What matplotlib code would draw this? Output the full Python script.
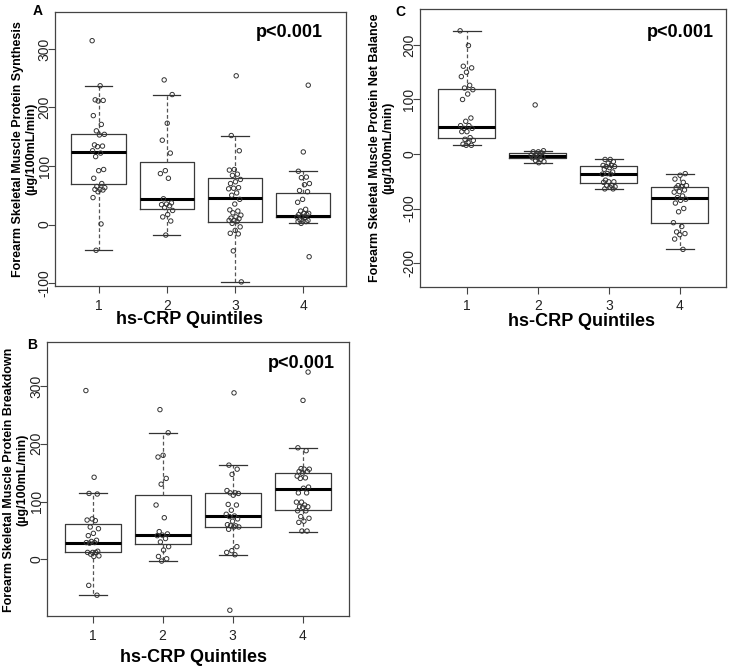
import numpy as np
import matplotlib
matplotlib.use("Agg")
import matplotlib.pyplot as plt

plt.rcParams['font.family'] = ['Liberation Sans', 'DejaVu Sans']

# =========================
# DATA
# =========================
quintiles = ['1', '2', '3', '4']

# A - protein synthesis
synth_q1 = [314, 237, 213, 212, 211, 186, 171, 160, 154, 153, 136, 134, 133, 126, 122,
            116, 94, 92, 79, 70, 65, 63, 60, 60, 59, 56, 46, 1, -44]
synth_q2 = [247, 222, 173, 144, 122, 92, 87, 79, 44, 37, 35, 34, 32, 29, 24, 17, 13, 6, -18]
synth_q3 = [254, 152, 126, 94, 93, 86, 84, 77, 73, 70, 63, 62, 61, 54, 50, 43, 35, 25, 23,
            20, 16, 13, 11, 10, 7, 7, 5, 2, -4, -10, -15, -16, -45, -98]
synth_q4 = [238, 124, 91, 81, 80, 70, 68, 58, 56, 43, 38, 26, 23, 19, 19, 17, 17, 14, 13,
            12, 8, 7, 6, 5, 5, 2, -55]
synth_med = [124, 43, 46, 14]
synth_lo = [69, 26, 5, 13]
synth_hi = [155, 107, 80, 54]
synth_wlo = [-44, -18, -98, 2]
synth_whi = [237, 222, 152, 91]

# B - protein breakdown
brk_q1 = [292, 142, 114, 113, 70, 68, 67, 56, 53, 45, 41, 33, 31, 29, 29, 28, 14, 12, 12,
          12, 9, 6, 5, -45, -62]
brk_q2 = [259, 219, 180, 177, 140, 130, 94, 72, 48, 44, 42, 41, 36, 30, 22, 16, 5, 1, -3]
brk_q3 = [288, 163, 156, 147, 119, 115, 115, 114, 111, 95, 94, 85, 78, 75, 74, 70, 66, 60,
          58, 58, 56, 56, 52, 22, 15, 12, 8, -88]
brk_q4 = [324, 275, 193, 188, 157, 156, 156, 152, 152, 149, 144, 141, 140, 125, 123, 115,
          115, 99, 99, 94, 91, 91, 90, 84, 84, 74, 71, 66, 64, 49, 49]
brk_med = [28, 42, 75, 122]
brk_lo = [12, 27, 56, 85]
brk_hi = [61, 111, 114, 150]
brk_wlo = [-62, -3, 8, 48]
brk_whi = [115, 219, 163, 193]

# C - net balance
net_q1 = [226, 199, 161, 158, 150, 142, 126, 121, 118, 110, 100, 66, 60, 52, 52, 47, 47,
          41, 41, 30, 27, 25, 21, 18, 16, 16]
net_q2 = [90, 6, 4, 4, 2, 0, -2, -3, -5, -5, -7, -7, -10, -12, -14, -16]
net_q3 = [-10, -10, -14, -17, -21, -21, -23, -23, -25, -28, -33, -36, -37, -37, -48, -51,
          -51, -52, -58, -58, -60, -61, -64, -64]
net_q4 = [-36, -39, -46, -52, -58, -58, -60, -62, -66, -69, -70, -77, -80, -83, -85, -90,
          -100, -106, -126, -133, -143, -146, -148, -156, -175]
net_med = [50, -4, -36, -80]
net_lo = [29, -8, -54, -126]
net_hi = [119, 2.5, -22, -60]
net_wlo = [16, -16, -64, -175]
net_whi = [226, 5.5, -10, -36]

W, H = 734, 668
fig = plt.figure(figsize=(W / 100, H / 100), dpi=100)


def px_axes(left, top, right, bottom):
    return fig.add_axes([left / W, 1 - bottom / H, (right - left) / W, (bottom - top) / H])


def draw_panel(ax, groups, med, lo, hi, wlo, whi, yticks, ylim, xlim, width_px):
    stats = []
    for i in range(len(groups)):
        stats.append(dict(med=med[i], q1=lo[i], q3=hi[i], whislo=wlo[i], whishi=whi[i], fliers=[]))
    ax.bxp(stats, positions=range(1, len(groups) + 1), widths=0.8, capwidths=0.4,
           showfliers=False,
           boxprops=dict(color='#3a3a3a', lw=0.9),
           medianprops=dict(color='black', lw=2.2),
           whiskerprops=dict(color='#555555', lw=0.9, linestyle=(0, (3, 2))),
           capprops=dict(color='#333333', lw=0.9))
    # deterministic jitter (golden ratio sequence)
    for i, vals in enumerate(groups):
        n = len(vals)
        off = ((np.arange(n) * 0.618034 + 0.3 * i) % 1 - 0.5) * 0.19
        ax.scatter(i + 1 + off, vals, s=10, facecolors='none', edgecolors='#333333',
                   linewidths=0.7, zorder=3)
    ax.set_xlim(*xlim)
    ax.set_ylim(*ylim)
    ax.set_xticks(range(1, len(groups) + 1))
    ax.set_xticklabels(quintiles)
    ax.set_yticks(yticks)
    ax.set_yticklabels([])
    # rotated y tick labels, R style
    for t in yticks:
        ax.text(-10.5 / width_px, t, str(t), transform=ax.get_yaxis_transform(),
                rotation=90, ha='center', va='center', fontsize=10, color='#222222')
    ax.tick_params(axis='both', length=5, width=0.8, color='#444444', labelsize=10,
                   labelcolor='#222222')
    ax.tick_params(axis='x', pad=4)
    for s in ax.spines.values():
        s.set_color('#444444')
        s.set_linewidth(0.9)


# panel A
axA = px_axes(55, 12, 346, 286)
draw_panel(axA, [synth_q1, synth_q2, synth_q3, synth_q4], synth_med, synth_lo, synth_hi,
           synth_wlo, synth_whi, [-100, 0, 100, 200, 300], (-105, 363), (0.36, 4.63), 291)

# panel B
axB = px_axes(47, 342, 349, 616)
draw_panel(axB, [brk_q1, brk_q2, brk_q3, brk_q4], brk_med, brk_lo, brk_hi,
           brk_wlo, brk_whi, [0, 100, 200, 300], (-98, 376), (0.35, 4.66), 302)

# panel C
axC = px_axes(420, 9, 726, 287)
draw_panel(axC, [net_q1, net_q2, net_q3, net_q4], net_med, net_lo, net_hi,
           net_wlo, net_whi, [-200, -100, 0, 100, 200], (-244, 266), (0.34, 4.65), 306)

# p values
for ax, xr, yc in [(axA, 0.921, 0.927), (axB, 0.954, 0.923), (axC, 0.961, 0.917)]:
    ax.text(xr, yc, 'p<0.001', transform=ax.transAxes, ha='right', va='center',
            fontsize=13, fontweight='bold')

# y labels
ylabels = [
    ('Forearm Skeletal Muscle Protein Synthesis\n(µg/100mL/min)', 25, 149),
    ('Forearm Skeletal Muscle Protein Breakdown\n(µg/100mL/min)', 16, 480),
    ('Forearm Skeletal Muscle Protein Net Balance\n(µg/100mL/min)', 382, 148),
]
for txt, x, y in ylabels:
    fig.text(x / W, 1 - y / H, txt, rotation=90, ha='center', va='center',
             fontsize=9, fontweight='bold', linespacing=1.15, multialignment='center')

# x labels
for x, y in [(190, 320), (194, 657), (581, 321)]:
    fig.text(x / W, 1 - y / H, 'hs-CRP Quintiles', ha='center', va='center',
             fontsize=13, fontweight='bold')

# panel letters
for lab, x, y in [('A', 38, 11), ('B', 32, 345), ('C', 400, 12)]:
    fig.text(x / W, 1 - y / H, lab, ha='center', va='center', fontsize=10, fontweight='bold')

fig.savefig('out.png', dpi=100)
